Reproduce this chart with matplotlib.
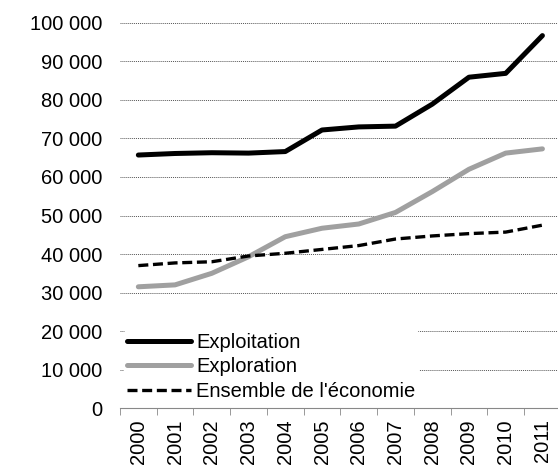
import matplotlib
matplotlib.use('Agg')
import matplotlib.pyplot as plt
from matplotlib.ticker import FuncFormatter, FixedLocator

plt.rcParams['font.family'] = ['Liberation Sans', 'DejaVu Sans']

years = ['2000', '2001', '2002', '2003', '2004', '2005',
         '2006', '2007', '2008', '2009', '2010', '2011']
exploitation = [65700, 66100, 66300, 66200, 66600, 72200,
                73000, 73200, 78900, 85900, 86900, 96700]
exploration = [31500, 32000, 35000, 39300, 44500, 46700,
               47800, 50800, 56200, 62000, 66200, 67300]
ensemble = [37000, 37700, 38000, 39500, 40200, 41200,
            42200, 43900, 44700, 45300, 45700, 47500]

fig = plt.figure(figsize=(5.58, 4.67), dpi=100)
ax = fig.add_axes([0.215, 0.126, 0.79, 0.825])

x = list(range(len(years)))
ax.plot(x, exploitation, color='black', lw=3.6, label='Exploitation', solid_capstyle='round')
ax.plot(x, exploration, color='#a0a0a0', lw=3.6, label='Exploration', solid_capstyle='round')
ax.plot(x, ensemble, color='black', lw=2.4, ls=(0, (3, 1.4)), label="Ensemble de l'économie")

ax.set_ylim(0, 100000)
ax.set_xlim(-0.5, len(years) - 0.5)
ax.set_yticks(range(0, 100001, 10000))
ax.yaxis.set_major_formatter(FuncFormatter(lambda v, p: '{:,}'.format(int(v)).replace(',', ' ')))
ax.grid(axis='y', color='#555555', lw=0.7, ls=(0, (1, 1)))
ax.set_axisbelow(True)

ax.set_xticks(x)
ax.set_xticklabels(years, rotation=90)
ax.xaxis.set_minor_locator(FixedLocator([i - 0.5 for i in range(len(years) + 1)]))
ax.tick_params(axis='x', which='major', length=0, pad=8)
ax.tick_params(axis='x', which='minor', length=5, color='#888888', direction='out')
ax.tick_params(axis='y', length=0, pad=13)
ax.tick_params(labelsize=14.5, colors='black')

for s in ['left', 'right', 'top']:
    ax.spines[s].set_visible(False)
ax.spines['bottom'].set_color('#888888')

leg = ax.legend(loc='lower left', bbox_to_anchor=(0.0, 0.0), frameon=True,
                fontsize=14.5, handlelength=3.2, handletextpad=0.25,
                labelspacing=0.28, borderpad=0.15, borderaxespad=0.2)
leg.get_frame().set_facecolor('white')
leg.get_frame().set_edgecolor('none')
leg.get_frame().set_alpha(1)

fig.savefig('out.png', dpi=100)
